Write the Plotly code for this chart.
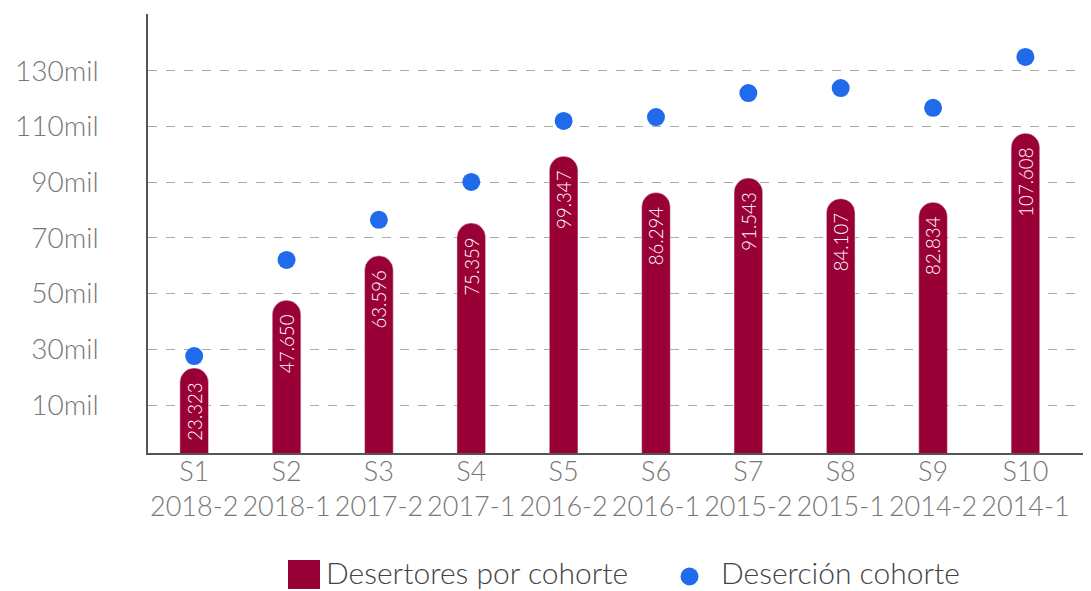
import plotly.graph_objects as go

semestres = ["S1", "S2", "S3", "S4", "S5", "S6", "S7", "S8", "S9", "S10"]
cohortes = ["2018-2", "2018-1", "2017-2", "2017-1", "2016-2", "2016-1", "2015-2", "2015-1", "2014-2", "2014-1"]
desertores_mil = [23.323, 47.650, 63.596, 75.359, 99.347, 86.294, 91.543, 84.107, 82.834, 107.608]
desercion_cohorte = [27.6, 62.1, 76.5, 90.1, 112.0, 113.4, 122.0, 123.8, 116.7, 135.0]
etiquetas = ["23.323", "47.650", "63.596", "75.359", "99.347", "86.294", "91.543", "84.107", "82.834", "107.608"]
y_ticks = [10, 30, 50, 70, 90, 110, 130]
y_tick_labels = [f"{v}mil" for v in y_ticks]

Y_MIN, Y_MAX = -7.2, 150.4
BAR_BASE = -20
categorias = [f"{s}<br>{c}" for s, c in zip(semestres, cohortes)]

FONT = "Lato"
GRAY = "#777777"
BAR_COLOR = "#990036"
DOT_COLOR = "#1f6beb"

# page body has an 8px default margin: figure spans 8..1091 x 8..591
OFF = 8
PL, PR, PT, PB = 148, 1091, 14, 453   # plot area in window pixels
PW, PH = PR - PL, PB - PT


def px(x):
    return (x - PL) / PW


def py(y):
    return (PB - y) / PH


fig = go.Figure()
fig.add_trace(go.Bar(
    x=categorias,
    y=[v - BAR_BASE for v in desertores_mil],
    base=BAR_BASE,
    name="Desertores por cohorte",
    marker=dict(color=BAR_COLOR, cornerradius="50%"),
    width=0.31,
    text=etiquetas,
    textposition="inside",
    insidetextanchor="end",
    textangle=-90,
    constraintext="none",
    textfont=dict(color="white", size=28, family=FONT, weight=300),
    showlegend=False,
))
fig.add_trace(go.Scatter(
    x=categorias,
    y=desercion_cohorte,
    mode="markers",
    name="Deserción cohorte",
    marker=dict(color=DOT_COLOR, size=18),
    showlegend=False,
))

# custom legend (paper coordinates)
fig.add_shape(type="rect", xref="paper", yref="paper",
              x0=px(288), x1=px(320), y0=py(589), y1=py(560),
              fillcolor=BAR_COLOR, line=dict(width=0))
fig.add_shape(type="circle", xref="paper", yref="paper",
              x0=px(680.5), x1=px(698.5), y0=py(585.5), y1=py(567.5),
              fillcolor=DOT_COLOR, line=dict(width=0))
fig.add_annotation(text="Desertores por cohorte", xref="paper", yref="paper",
                   x=px(324), y=py(571.5), xanchor="left", yanchor="middle",
                   showarrow=False, font=dict(size=30, color="#444444", family=FONT, weight=300))
fig.add_annotation(text="Deserción cohorte", xref="paper", yref="paper",
                   x=px(719), y=py(571.5), xanchor="left", yanchor="middle",
                   showarrow=False, font=dict(size=30, color="#444444", family=FONT, weight=300))

fig.update_layout(
    width=1091 - OFF, height=591 - OFF,
    margin=dict(l=PL - OFF, r=1091 - PR, t=PT - OFF, b=591 - PB, autoexpand=False),
    plot_bgcolor="white", paper_bgcolor="white",
    font=dict(family=FONT, color=GRAY, size=27),
    showlegend=False,
    xaxis=dict(
        range=[-0.5, 9.71],
        showline=True, linecolor="#555555", linewidth=1.5,
        showgrid=False, ticks="", automargin=False, ticklabelstandoff=-6,
        tickfont=dict(size=27, color=GRAY, family=FONT, weight=300),
    ),
    yaxis=dict(
        range=[Y_MIN, Y_MAX],
        tickvals=y_ticks, ticktext=y_tick_labels,
        showline=True, linecolor="#555555", linewidth=1.5,
        showgrid=True, gridcolor="#aaaaaa", griddash="dash", gridwidth=1,
        zeroline=False, ticks="", ticklabelstandoff=42, automargin=False,
        tickfont=dict(size=28, color=GRAY, family=FONT, weight=300),
    ),
)

fig.write_html("out.html")
